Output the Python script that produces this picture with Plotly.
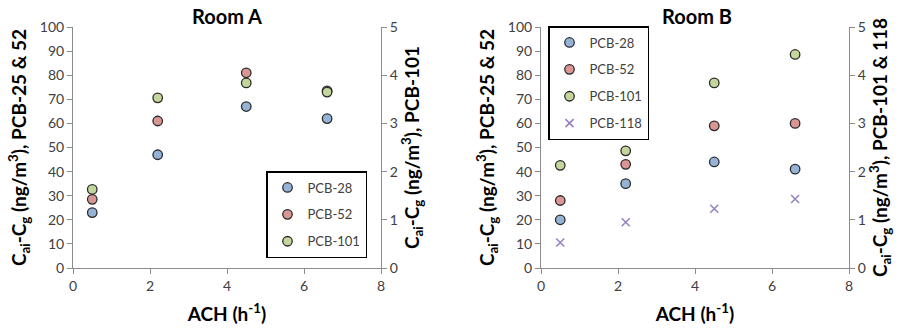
import plotly.graph_objects as go

ach = [0.5, 2.2, 4.5, 6.6]

# Room A
a_pcb28 = [23, 47, 67, 62]
a_pcb52 = [28.5, 61, 81, 73.5]
a_pcb101 = [1.63, 3.53, 3.84, 3.65]

# Room B
b_pcb28 = [20, 35, 44, 41]
b_pcb52 = [28, 43, 59, 60]
b_pcb101 = [2.13, 2.43, 3.84, 4.43]
b_pcb118 = [0.53, 0.95, 1.23, 1.43]

x_ticks = [0, 2, 4, 6, 8]
left_ticks = [0, 10, 20, 30, 40, 50, 60, 70, 80, 90, 100]
right_ticks = [0, 1, 2, 3, 4, 5]

BLUE = "#95B3D7"
RED = "#DA9694"
GREEN = "#C4D79B"
PURPLE = "#9580BF"
OUT = dict(color="#2b2b2b", width=1.3)
FONT = "Lato, 'Open Sans', sans-serif"

fig = go.Figure()

def circ(color):
    return dict(symbol="circle", size=9.5, color=color, line=OUT)

fig.add_trace(go.Scatter(x=ach, y=a_pcb28, mode="markers", name="PCB-28", marker=circ(BLUE),
                         xaxis="x", yaxis="y", legend="legend", legendgroup="a1"))
fig.add_trace(go.Scatter(x=ach, y=a_pcb52, mode="markers", name="PCB-52", marker=circ(RED),
                         xaxis="x", yaxis="y", legend="legend", legendgroup="a2"))
fig.add_trace(go.Scatter(x=ach, y=a_pcb101, mode="markers", name="PCB-101", marker=circ(GREEN),
                         xaxis="x", yaxis="y2", legend="legend", legendgroup="a3"))

fig.add_trace(go.Scatter(x=ach, y=b_pcb28, mode="markers", name="PCB-28", marker=circ(BLUE),
                         xaxis="x2", yaxis="y3", legend="legend2", legendgroup="b1"))
fig.add_trace(go.Scatter(x=ach, y=b_pcb52, mode="markers", name="PCB-52", marker=circ(RED),
                         xaxis="x2", yaxis="y3", legend="legend2", legendgroup="b2"))
fig.add_trace(go.Scatter(x=ach, y=b_pcb101, mode="markers", name="PCB-101", marker=circ(GREEN),
                         xaxis="x2", yaxis="y4", legend="legend2", legendgroup="b3"))
fig.add_trace(go.Scatter(x=ach, y=b_pcb118, mode="markers", name="PCB-118",
                         marker=dict(symbol="x-thin", size=8, color=PURPLE, line=dict(color=PURPLE, width=1.5)),
                         xaxis="x2", yaxis="y4", legend="legend2", legendgroup="b4"))

W, H = 911, 330
xa_dom = [73 / W, 381 / W]
xb_dom = [541 / W, 849 / W]
y_dom = [1 - 268 / H, 1 - 27 / H]

tickfont = dict(family=FONT, size=14, color="#404040")
titlefont = dict(family=FONT, size=19, color="#000000")
axcommon = dict(showgrid=False, zeroline=False, showline=True, linecolor="#8c8c8c", linewidth=1,
                ticks="outside", ticklen=5, tickcolor="#8c8c8c", tickfont=tickfont, automargin=False)

def xaxis(dom, anchor):
    return dict(domain=dom, anchor=anchor, range=[0, 8], tickvals=x_ticks,
                title=dict(text="<b>ACH (h<sup>-1</sup>)</b>", font=titlefont, standoff=14), **axcommon)

ytitle_l = "<b>C<sub>ai</sub>-C<sub>g</sub> (ng/m<sup>3</sup>), PCB-25 & 52</b>"

legfont = dict(family=FONT, size=13, color="#404040")

fig.update_layout(
    width=W, height=H, margin=dict(l=0, r=0, t=0, b=0),
    plot_bgcolor="white", paper_bgcolor="white",
    showlegend=True,
    xaxis=xaxis(xa_dom, "y"),
    xaxis2=xaxis(xb_dom, "y3"),
    yaxis=dict(domain=y_dom, anchor="x", range=[0, 100], tickvals=left_ticks,
               title=dict(text=ytitle_l, font=titlefont, standoff=8), **axcommon),
    yaxis2=dict(domain=y_dom, anchor="x", overlaying="y", side="right", range=[0, 5], tickvals=right_ticks,
                title=dict(text="<b>C<sub>ai</sub>-C<sub>g</sub> (ng/m<sup>3</sup>), PCB-101</b>", font=titlefont, standoff=8),
                **axcommon),
    yaxis3=dict(domain=y_dom, anchor="x2", range=[0, 100], tickvals=left_ticks,
                title=dict(text=ytitle_l, font=titlefont, standoff=8), **axcommon),
    yaxis4=dict(domain=y_dom, anchor="x2", overlaying="y3", side="right", range=[0, 5], tickvals=right_ticks,
                title=dict(text="<b>C<sub>ai</sub>-C<sub>g</sub> (ng/m<sup>3</sup>), PCB-101 & 118</b>", font=titlefont, standoff=8),
                **axcommon),
    legend=dict(x=266 / W, y=1 - 171 / H, xanchor="left", yanchor="top", bgcolor="white",
                bordercolor="black", borderwidth=1.5, font=legfont,
                tracegroupgap=7, itemwidth=30),
    legend2=dict(x=548 / W, y=1 - 26 / H, xanchor="left", yanchor="top", bgcolor="white",
                 bordercolor="black", borderwidth=1.5, font=legfont,
                 tracegroupgap=7, itemwidth=30),
    annotations=[
        dict(text="<b>Room A</b>", x=227 / W, y=1 - 16 / H, xref="paper", yref="paper", showarrow=False,
             xanchor="center", yanchor="middle", font=dict(family=FONT, size=20, color="#000")),
        dict(text="<b>Room B</b>", x=697 / W, y=1 - 16 / H, xref="paper", yref="paper", showarrow=False,
             xanchor="center", yanchor="middle", font=dict(family=FONT, size=20, color="#000")),
    ],
)

fig.write_html("out.html")
